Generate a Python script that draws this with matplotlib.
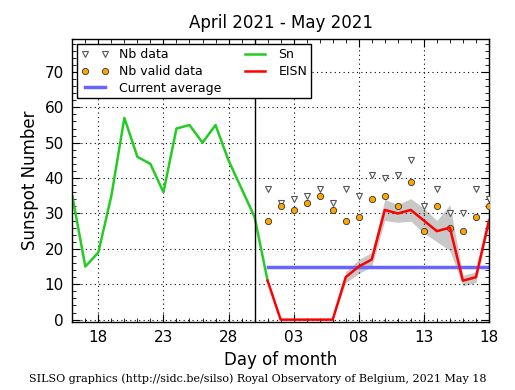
import numpy as np
import matplotlib
matplotlib.use('Agg')
import matplotlib.pyplot as plt

# ---------------------------------------------------------------------------
# Data (x = day counted from April 1 -> April 30 = 30, May 1 = 31, ...)
# ---------------------------------------------------------------------------
sn_days = [16, 17, 18, 19, 20, 21, 22, 23, 24, 25, 26, 27, 28, 29, 30, 31]
sn_vals = [35, 15, 19, 35, 57, 46, 44, 36, 54, 55, 50, 55, 45, 37, 29, 11]

eisn_days = list(range(31, 49))
eisn_vals = [11, 0, 0, 0, 0, 0, 12, 15, 17, 31, 30, 31, 28, 25, 26, 11, 12, 28]
eisn_err = [0.5, 0, 0, 0, 0, 0, 1.5, 2, 2, 3, 2.5, 3.2, 3.5, 3, 6.5, 1.5, 1.5, 1.5]

nb_data = [37, 33, 34, 35, 37, 33, 37, 35, 41, 40, 41, 45, 32, 37, 30, 30, 37, 34]
nb_valid = [28, 32, 31, 33, 35, 31, 28, 29, 34, 35, 32, 39, 25, 32, 26, 25, 29, 32]

current_avg = 15
month_boundary = 30

tick_pos = [18, 23, 28, 33, 38, 43, 48]
tick_lab = ['18', '23', '28', '03', '08', '13', '18']

# ---------------------------------------------------------------------------
fig = plt.figure(figsize=(5.15, 3.9), dpi=100)
ax = fig.add_axes([0.1404, 0.175, 0.809, 0.724])

lo = np.array(eisn_vals) - np.array(eisn_err)
hi = np.array(eisn_vals) + np.array(eisn_err)
ax.fill_between(eisn_days, lo, hi, color='#c8c8c8', lw=0, zorder=1)

ax.plot(eisn_days, nb_data, linestyle='none', marker='v', markersize=4.5,
        markerfacecolor='white', markeredgecolor='#555555', mew=0.8,
        label='Nb data', zorder=3)
ax.plot(eisn_days, nb_valid, linestyle='none', marker='o', markersize=4.5,
        markerfacecolor='#ffa500', markeredgecolor='#333333', mew=0.6,
        label='Nb valid data', zorder=3)
ax.plot([eisn_days[0], eisn_days[-1]], [current_avg, current_avg],
        color='#6666ff', lw=2.5, label='Current average', zorder=2)
ax.plot(sn_days, sn_vals, color='#22cc22', lw=1.8, label='Sn', zorder=2)
ax.plot(eisn_days, eisn_vals, color='red', lw=1.8, label='EISN', zorder=4)

ax.axvline(month_boundary, color='black', lw=1, zorder=5)

ax.set_xlim(16, 48)
ax.set_ylim(-0.6, 79.2)
ax.set_xticks(tick_pos)
ax.set_xticklabels(tick_lab)
ax.set_xticks(np.arange(16, 49), minor=True)
ax.set_yticks(np.arange(0, 80, 10))
ax.set_yticks(np.arange(0, 80, 2), minor=True)
ax.tick_params(which='both', direction='in', top=True, right=True,
               labelsize=11)
ax.tick_params(which='major', length=6, pad=6)
ax.tick_params(which='minor', length=3)
ax.grid(True, which='major', linestyle=(0, (1, 3)), color='black', lw=0.8)
for s in ax.spines.values():
    s.set_linewidth(1.0)

ax.set_title('April 2021 - May 2021', fontsize=12, pad=8)
ax.set_xlabel('Day of month', fontsize=12)
ax.set_ylabel('Sunspot Number', fontsize=12)

leg = ax.legend(loc='upper left', ncol=2, fontsize=9, numpoints=2,
                fancybox=False, edgecolor='black', framealpha=1,
                borderaxespad=0.4, handlelength=2.2, columnspacing=1.6,
                labelspacing=0.3, borderpad=0.3)
leg.get_frame().set_linewidth(1.0)

fig.text(0.5, 0.028, 'SILSO graphics (http://sidc.be/silso) Royal Observatory of Belgium, 2021 May 18',
         ha='center', va='center', fontsize=8, family='DejaVu Serif')

fig.savefig('out.png', dpi=100)
